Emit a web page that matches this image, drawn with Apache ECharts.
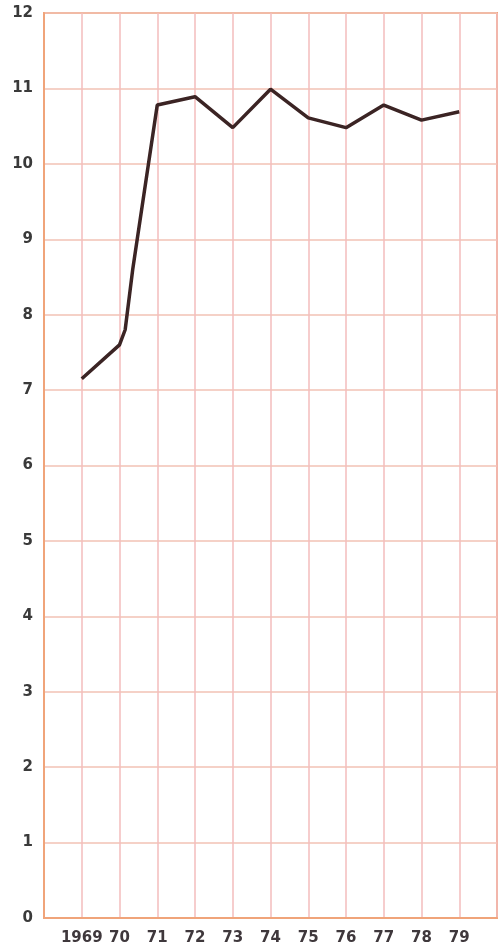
<!DOCTYPE html>
<html>
<head>
<meta charset="utf-8">
<script src="https://cdn.jsdelivr.net/npm/echarts@6/dist/echarts.min.js"></script>
<style>html,body{margin:0;padding:0;background:#fff}#c{width:500px;height:948px}</style>
</head>
<body>
<div id="c"></div>
<script>
const years = [1969, 1970, 1970.15, 1970.35, 1971, 1972, 1973, 1974, 1975, 1976, 1977, 1978, 1979];
const values = [7.15, 7.6, 7.8, 8.6, 10.78, 10.89, 10.48, 10.99, 10.61, 10.48, 10.78, 10.58, 10.69];
const xTickLabels = {1969:'1969',1970:'70',1971:'71',1972:'72',1973:'73',1974:'74',1975:'75',1976:'76',1977:'77',1978:'78',1979:'79'};

const chart = echarts.init(document.getElementById('c'));
chart.setOption({
  animation: false,
  grid: {left: 44, top: 13, right: 2, bottom: 30, show: true, borderColor: '#f0a47a', borderWidth: 2, backgroundColor: '#fff'},
  xAxis: {
    type: 'value', min: 1968, max: 1980, interval: 1,
    axisLine: {show: true, lineStyle: {color: '#f0a47a', width: 2}},
    axisTick: {show: false},
    splitLine: {show: true, lineStyle: {color: '#f3bcbc', width: 1.5}},
    axisLabel: {
      margin: 13, color: '#3f383c', fontSize: 15, fontWeight: 'bold', fontFamily: 'DejaVu Sans',
      formatter: v => xTickLabels[Math.round(v)] || ''
    }
  },
  yAxis: {
    type: 'value', min: 0, max: 12, interval: 1,
    axisLine: {show: true, lineStyle: {color: '#f0a47a', width: 2}},
    axisTick: {show: false},
    splitLine: {show: true, lineStyle: {color: '#f2c2b4', width: 1.5}},
    axisLabel: {margin: 11, color: '#3a3a3a', fontSize: 15, fontWeight: 'bold', fontFamily: 'DejaVu Sans'}
  },
  series: [{
    type: 'line', data: years.map((y, i) => [y, values[i]]),
    symbol: 'none', lineStyle: {color: '#3b2424', width: 3.5}
  }]
});
</script>
</body>
</html>
